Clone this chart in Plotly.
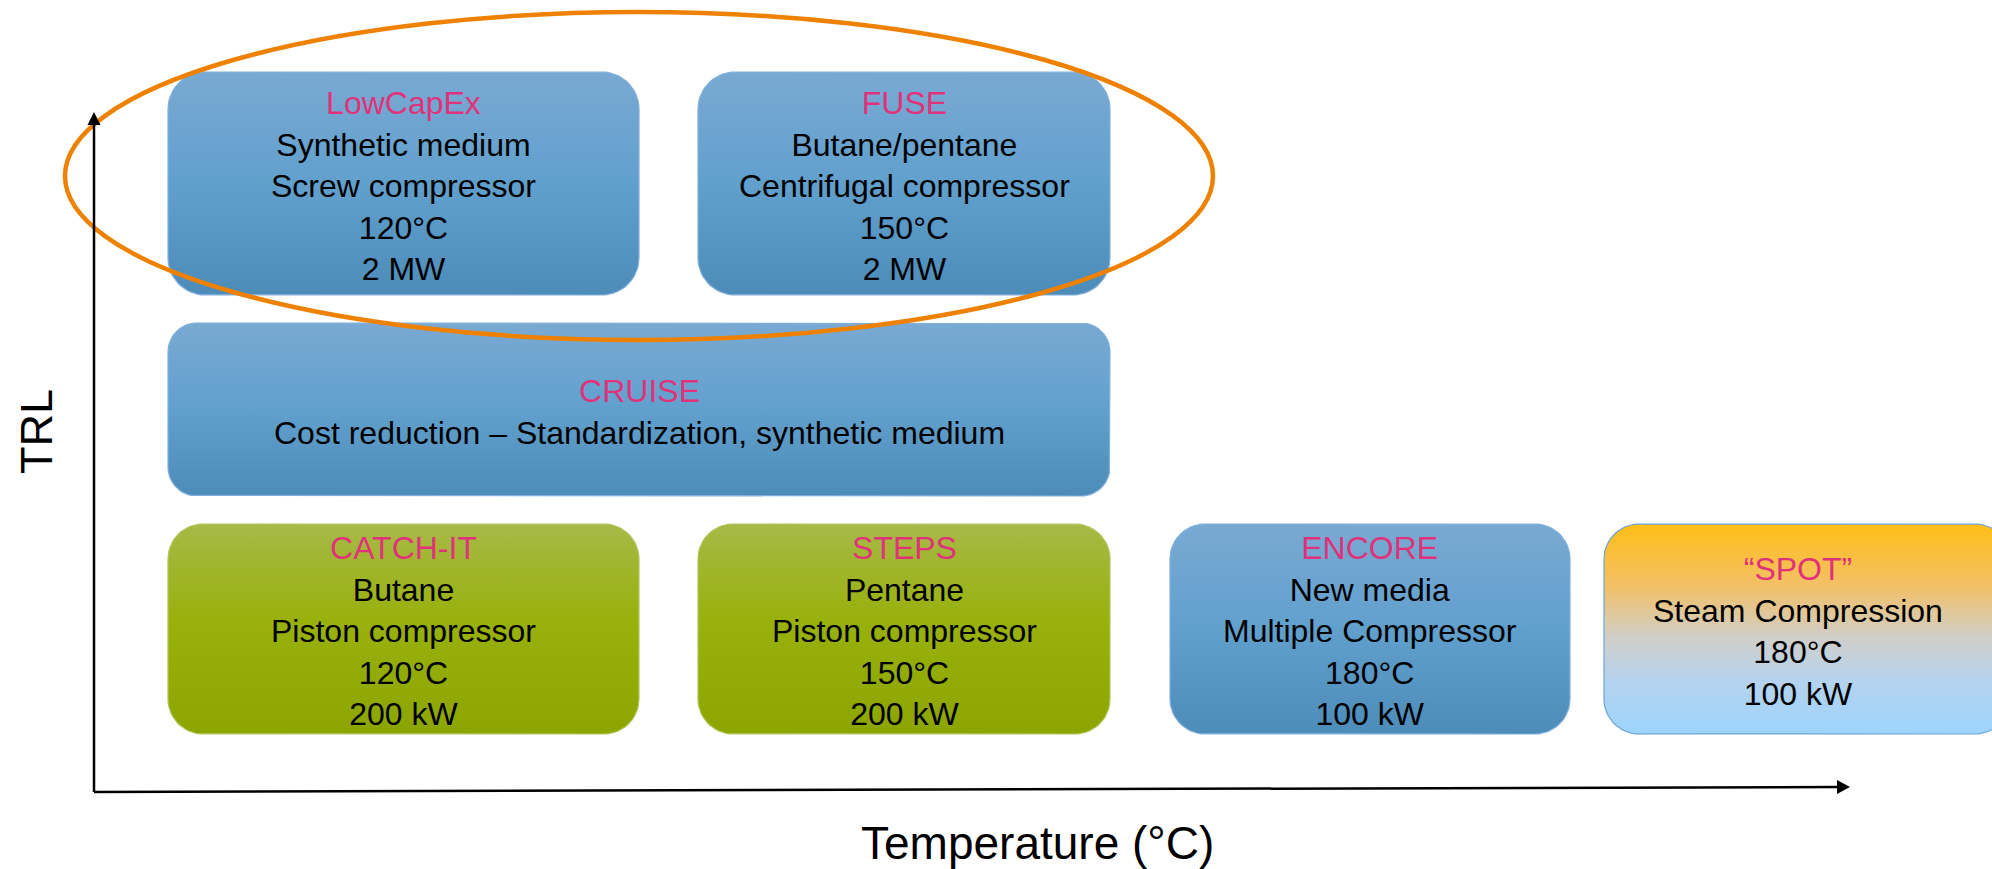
import numpy as np
import plotly.graph_objects as go

W, H = 1992, 869

# Project portfolio: name, working medium / scope, compressor, temperature, capacity
projects = ["LowCapEx", "FUSE", "CRUISE", "CATCH-IT", "STEPS", "ENCORE", "“SPOT”"]
media = ["Synthetic medium", "Butane/pentane",
         "Cost reduction – Standardization, synthetic medium",
         "Butane", "Pentane", "New media", None]
compressors = ["Screw compressor", "Centrifugal compressor", None,
               "Piston compressor", "Piston compressor",
               "Multiple Compressor", "Steam Compression"]
temperatures = ["120°C", "150°C", None, "120°C", "150°C", "180°C", "180°C"]
capacities = ["2 MW", "2 MW", None, "200 kW", "200 kW", "100 kW", "100 kW"]

x_title = "Temperature (°C)"
y_title = "TRL"

# ---- layout of the diagram (pixel grid) ----
col_edges = [(168, 639), (698, 1110), (1170, 1570), (1604, 2010)]
row_edges = [(72, 295), (323, 496), (524, 734)]
placement = {  # name -> (row, first column, last column)
    "LowCapEx": (0, 0, 0), "FUSE": (0, 1, 1), "CRUISE": (1, 0, 1),
    "CATCH-IT": (2, 0, 0), "STEPS": (2, 1, 1), "ENCORE": (2, 2, 2),
    "“SPOT”": (2, 3, 3),
}
box_style = {
    "LowCapEx": "blue", "FUSE": "blue", "CRUISE": "blue",
    "CATCH-IT": "green", "STEPS": "green", "ENCORE": "blue", "“SPOT”": "spot",
}
palettes = {
    "blue": dict(scale=[[0, "#79a9d3"], [0.5, "#61a0cd"], [1, "#4d8bb9"]],
                 edge="#80b0da"),
    "green": dict(scale=[[0, "#a7b947"], [0.45, "#98b10d"], [1, "#8da500"]],
                  edge="#b2c55c"),
    "spot": dict(scale=[[0, "#ffbe16"], [0.3, "#f2c068"], [0.55, "#cfcfcc"],
                        [0.75, "#b4d3ee"], [1, "#9dd4fc"]],
                 edge="#6fa3d6"),
}
TITLE_COLOR = "#e0327a"
FONT = "Liberation Sans, Arial, sans-serif"


def rounded_rect(x0, x1, y0, y1, r, n=16):
    """Outline of a rounded rectangle in y-down coordinates."""
    xs, ys = [], []
    corners = [((x0 + r, y0 + r), 180, 270), ((x1 - r, y0 + r), 270, 360),
               ((x1 - r, y1 - r), 0, 90), ((x0 + r, y1 - r), 90, 180)]
    for (cx, cy), a0, a1 in corners:
        t = np.radians(np.linspace(a0, a1, n))
        xs.extend(cx + r * np.cos(t))
        ys.extend(cy + r * np.sin(t))
    xs.append(xs[0])
    ys.append(ys[0])
    return xs, ys


fig = go.Figure()
annotations = []

for i, name in enumerate(projects):
    row, c0, c1 = placement[name]
    x0, x1 = col_edges[c0][0], col_edges[c1][1]
    y0, y1 = row_edges[row]
    r = 0.1667 * min(x1 - x0, y1 - y0)
    xs, ys = rounded_rect(x0, x1, y0, y1, r)
    pal = palettes[box_style[name]]
    fig.add_trace(go.Scatter(
        x=xs, y=ys, mode="lines", fill="toself",
        line=dict(color=pal["edge"], width=1.2),
        fillgradient=dict(type="vertical", colorscale=pal["scale"],
                          start=y0, stop=y1),
        hoverinfo="skip", showlegend=False,
    ))
    lines = [f"<span style='color:{TITLE_COLOR}'>{name}</span>"]
    lines += [s for s in (media[i], compressors[i], temperatures[i], capacities[i]) if s]
    cx = (x0 + min(x1, W)) / 2
    annotations.append(dict(
        x=cx, y=(y0 + y1) / 2 + 2, xref="x", yref="y", text="<br>".join(lines),
        showarrow=False, xanchor="center", yanchor="middle", align="center",
        font=dict(family=FONT, size=32, color="#000000"),
    ))

# axis titles
annotations.append(dict(x=1037, y=843, xref="x", yref="y", text=x_title,
                        showarrow=False, font=dict(family=FONT, size=46, color="#000")))
annotations.append(dict(x=36, y=432, xref="x", yref="y", text=y_title, textangle=-90,
                        showarrow=False, font=dict(family=FONT, size=45, color="#000")))

shapes = [
    # highlight ring around the MW-scale projects
    dict(type="circle", xref="x", yref="y", x0=65, x1=1213, y0=12, y1=340,
         line=dict(color="#ee8200", width=4.5), layer="above"),
    # axis arrows
    dict(type="line", xref="x", yref="y", x0=94, y0=792, x1=94, y1=124,
         line=dict(color="#000", width=2.5)),
    dict(type="path", xref="x", yref="y", path="M 87.5 125 L 94 112 L 100.5 125 Z",
         fillcolor="#000", line=dict(width=0)),
    dict(type="line", xref="x", yref="y", x0=94, y0=792, x1=1838, y1=787,
         line=dict(color="#000", width=2.5)),
    dict(type="path", xref="x", yref="y", path="M 1837 780 L 1850 787 L 1837 794 Z",
         fillcolor="#000", line=dict(width=0)),
]

fig.update_layout(
    width=W, height=H, margin=dict(l=0, r=0, t=0, b=0),
    paper_bgcolor="white", plot_bgcolor="white",
    xaxis=dict(range=[0, W], visible=False, fixedrange=True),
    yaxis=dict(range=[H, 0], visible=False, fixedrange=True),
    shapes=shapes, annotations=annotations, showlegend=False,
)

fig.write_html("out.html")
